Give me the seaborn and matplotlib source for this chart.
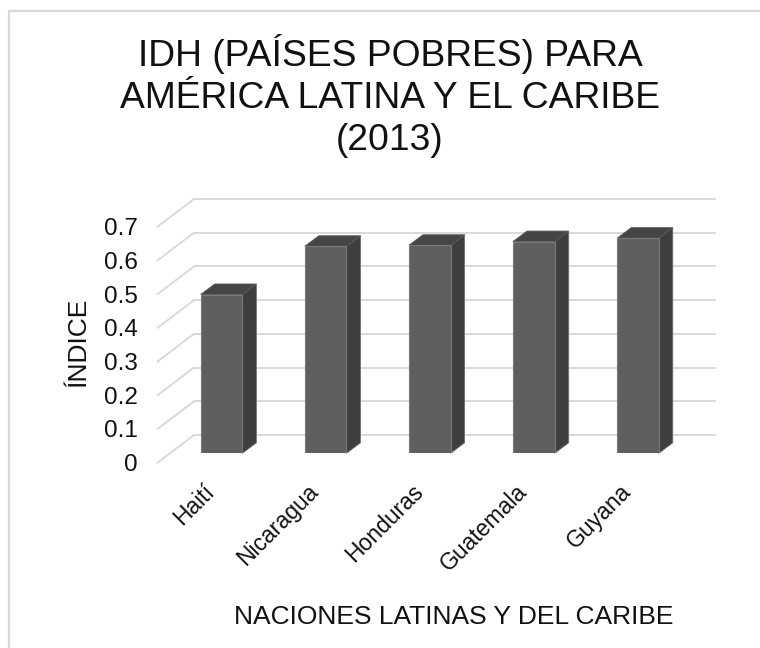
import matplotlib
matplotlib.use("Agg")
import matplotlib.pyplot as plt
import pandas as pd
import seaborn as sns
from matplotlib.lines import Line2D
from matplotlib.patches import Polygon
from matplotlib.transforms import Affine2D

paises = ["Haití", "Nicaragua", "Honduras", "Guatemala", "Guyana"]
idh = [0.471, 0.614, 0.617, 0.628, 0.638]
y_ticks = [0, 0.1, 0.2, 0.3, 0.4, 0.5, 0.6, 0.7]
y_labels = ["0", "0.1", "0.2", "0.3", "0.4", "0.5", "0.6", "0.7"]
titulo = "IDH (PAÍSES POBRES) PARA\nAMÉRICA LATINA Y EL CARIBE\n(2013)"

W, H = 760, 648
sns.set_theme(style="white")
plt.rcParams["font.family"] = ["Liberation Sans", "DejaVu Sans"]
TXT = "#111111"

df = pd.DataFrame({"pais": paises, "idh": idh})

fig = plt.figure(figsize=(W / 100, H / 100), dpi=100)
fig.patch.set_facecolor("white")

# marco: solo se ven los bordes superior e izquierdo
fig.add_artist(Line2D([9 / W, 1], [1 - 10.5 / H, 1 - 10.5 / H], transform=fig.transFigure,
                      color="#d9d9d9", lw=1.6))
fig.add_artist(Line2D([9 / W, 9 / W], [1 - 10.5 / H, 0], transform=fig.transFigure,
                      color="#d9d9d9", lw=1.6))

left, right, top, bottom = 169.5, 690, 217.3, 453.3
ax = fig.add_axes([left / W, 1 - bottom / H, (right - left) / W, (bottom - top) / H])
sns.barplot(data=df, x="pais", y="idh", ax=ax, width=0.4, color="#5f5f5f",
            saturation=1, edgecolor="#7a7a7a", linewidth=0.8, zorder=3)
ax.set_xlim(-0.5, 4.5)
ax.set_ylim(0, 0.7)
sns.despine(ax=ax, left=True, bottom=True, top=True, right=True)
ax.patch.set_alpha(0)

# pared del fondo y piso en perspectiva, desplazados en pixeles
back = ax.transData + Affine2D().translate(24.5, 18.3)
front = ax.transData + Affine2D().translate(-12, -9.4)
for v in y_ticks:
    ax.plot([-0.5, 4.5], [v, v], transform=back, color="#d9d9d9", lw=1.4, clip_on=False, zorder=1)
    p0 = front.transform((-0.5, v))
    p1 = back.transform((-0.5, v))
    ax.plot([p0[0], p1[0]], [p0[1], p1[1]], transform=None, color="#d9d9d9", lw=1.4,
            clip_on=False, zorder=1)

# caras lateral y superior de cada barra
dx, dy = 14, 10.5
for bar in ax.patches[:len(paises)]:
    x0, x1 = bar.get_x(), bar.get_x() + bar.get_width()
    h = bar.get_height()
    a = ax.transData.transform((x0, h))
    b = ax.transData.transform((x1, h))
    c = ax.transData.transform((x1, 0))
    side = [b, b + (dx, dy), c + (dx, dy), c]
    lid = [a, a + (dx, dy), b + (dx, dy), b]
    ax.add_patch(Polygon(side, closed=True, transform=None, fc="#3e3e3e", ec="#6e6e6e",
                         lw=0.6, zorder=2.5, clip_on=False))
    ax.add_patch(Polygon(lid, closed=True, transform=None, fc="#454545", ec="#555555",
                         lw=0.6, zorder=2.5, clip_on=False))

ax.set_yticks(y_ticks)
ax.set_yticklabels(y_labels, fontsize=17.5, color=TXT)
ax.tick_params(axis="y", length=0, pad=23)
shift_y = Affine2D().translate(0, -9.4)
for lab in ax.get_yticklabels():
    lab.set_transform(lab.get_transform() + shift_y)

ax.set_xticks(range(len(paises)))
ax.set_xticklabels(paises, rotation=45, ha="right", rotation_mode="anchor",
                   fontsize=16.5, color=TXT)
ax.tick_params(axis="x", length=0, pad=19)
shift_x = Affine2D().translate(-18.5, 0)
for lab in ax.get_xticklabels():
    lab.set_transform(lab.get_transform() + shift_x)

ax.set_xlabel("")
ax.set_ylabel("")
fig.text(454 / W, 1 - 617 / H, "NACIONES LATINAS Y DEL CARIBE", ha="center", va="center",
         fontsize=19, color=TXT)
fig.text(78 / W, 1 - 342 / H, "ÍNDICE", rotation=90, ha="center", va="center",
         fontsize=19, color=TXT)
fig.text(390 / W, 1 - 96 / H, titulo, ha="center", va="center", fontsize=26.8,
         color=TXT, linespacing=1.25)

fig.savefig("out.png", dpi=100)
